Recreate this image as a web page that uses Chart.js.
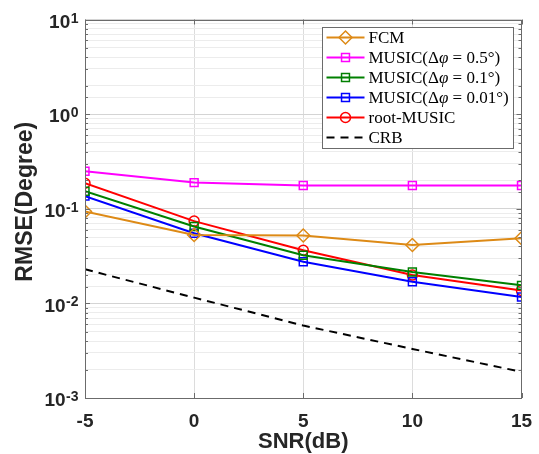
<!DOCTYPE html>
<html><head><meta charset="utf-8">
<script src="https://cdn.jsdelivr.net/npm/chart.js@4.4.1/dist/chart.umd.min.js"></script>
<style>html,body{margin:0;padding:0;background:#fff}#wrap{width:539px;height:454px}</style>
</head><body><div id="wrap"><canvas id="c" width="539" height="454"></canvas></div>
<script>
// ---- data ----
const snr = [-5, 0, 5, 10, 15];
const fcm = [0.0936, 0.0529, 0.0522, 0.0414, 0.0488];
const music05 = [0.249, 0.189, 0.176, 0.176, 0.176];
const music01 = [0.153, 0.0649, 0.0322, 0.0215, 0.0155];
const music001 = [0.136, 0.0551, 0.0275, 0.0169, 0.0117];
const rootMusic = [0.186, 0.074, 0.0364, 0.0199, 0.0137];
const crb = [0.0229, 0.0115, 0.00583, 0.0033, 0.00189];
const xTickValues = [-5, 0, 5, 10, 15];
const yTickExponents = [-3, -2, -1, 0, 1];
const seriesNames = ['FCM', 'MUSIC(Δφ = 0.5°)', 'MUSIC(Δφ = 0.1°)', 'MUSIC(Δφ = 0.01°)', 'root-MUSIC', 'CRB'];
const xTitle = 'SNR(dB)';
const yTitle = 'RMSE(Degree)';

const SANS = '"Liberation Sans", Arial, Helvetica, sans-serif';
const SERIF = '"Liberation Serif", "Times New Roman", serif';
const AXIS = '#6b6b6b';
const TXT = '#262626';

function isDecade(v){ const e = Math.log10(v); return Math.abs(e - Math.round(e)) < 1e-6; }
function pts(arr){ return snr.map((x, i) => ({x: x, y: arr[i]})); }

function mk(label, arr, color, style, radius, dash){
  return {
    label: label, data: pts(arr), borderColor: color, backgroundColor: 'rgba(0,0,0,0)',
    borderWidth: 2, borderDash: dash || [], pointStyle: style || false,
    pointRadius: style ? radius : 0, pointHoverRadius: style ? radius : 0,
    pointBorderWidth: 1.5, pointBorderColor: color, pointBackgroundColor: 'rgba(0,0,0,0)',
    tension: 0, fill: false
  };
}

const datasets = [
  mk(seriesNames[0], fcm, '#DD8A16', 'rectRot', 6.5),
  mk(seriesNames[1], music05, '#FF00FF', 'rect', 5.6),
  mk(seriesNames[2], music01, '#008000', 'rect', 5.6),
  mk(seriesNames[3], music001, '#0000FF', 'rect', 5.6),
  mk(seriesNames[4], rootMusic, '#FF0000', 'circle', 5),
  mk(seriesNames[5], crb, '#000000', false, 0, [8, 6])
];

function drawMarker(ctx, style, color, r, x, y){
  if (!style) return;
  ctx.save();
  ctx.strokeStyle = color; ctx.lineWidth = 1.5; ctx.setLineDash([]);
  ctx.beginPath();
  if (style === 'rect'){ const s = r * Math.SQRT1_2; ctx.rect(x - s, y - s, 2*s, 2*s); }
  else if (style === 'rectRot'){ ctx.moveTo(x, y - r); ctx.lineTo(x + r, y); ctx.lineTo(x, y + r); ctx.lineTo(x - r, y); ctx.closePath(); }
  else if (style === 'circle'){ ctx.arc(x, y, r, 0, Math.PI*2); }
  ctx.stroke();
  ctx.restore();
}

const framePlugin = {
  id: 'frame',
  afterDraw(chart){
    const {ctx, chartArea: a, scales} = chart;
    ctx.save();
    // y tick labels: 10 with raised exponent
    const mainFont = 'bold 19px ' + SANS, expFont = 'bold 14px ' + SANS;
    ctx.fillStyle = TXT; ctx.textAlign = 'left';
    yTickExponents.forEach(e => {
      const gy = scales.y.getPixelForValue(Math.pow(10, e));
      const y0 = gy + 3;
      const es = String(e);
      ctx.font = mainFont; const wm = ctx.measureText('10').width;
      ctx.font = expFont; const we = ctx.measureText(es).width;
      const xr = a.left - 7;
      const xs = xr - we - wm;
      ctx.font = mainFont; ctx.textBaseline = 'middle';
      ctx.fillText('10', xs, y0);
      ctx.font = expFont; ctx.textBaseline = 'alphabetic';
      ctx.fillText(es, xs + wm + 0.5, y0);
    });
    // y title
    ctx.save();
    ctx.translate(26, (a.top + a.bottom) / 2 - 7);
    ctx.rotate(-Math.PI / 2);
    ctx.font = 'bold 23px ' + SANS; ctx.textAlign = 'center'; ctx.textBaseline = 'middle';
    ctx.fillText(yTitle, 0, 0);
    ctx.restore();

    ctx.strokeStyle = AXIS; ctx.lineWidth = 1; ctx.setLineDash([]);
    ctx.beginPath();
    scales.y.ticks.forEach(t => {
      const y = Math.round(scales.y.getPixelForValue(t.value)) + 0.5;
      const len = isDecade(t.value) ? 5 : 3;
      ctx.moveTo(a.left, y); ctx.lineTo(a.left + len, y);
      ctx.moveTo(a.right, y); ctx.lineTo(a.right - len, y);
    });
    scales.x.ticks.forEach(t => {
      const x = Math.round(scales.x.getPixelForValue(t.value)) + 0.5;
      ctx.moveTo(x, a.bottom); ctx.lineTo(x, a.bottom - 5);
      ctx.moveTo(x, a.top); ctx.lineTo(x, a.top + 5);
    });
    ctx.stroke();
    ctx.strokeRect(Math.round(a.left) + 0.5, Math.round(a.top) + 0.5, Math.round(a.right - a.left) - 1, Math.round(a.bottom - a.top) - 1);

    // legend (inside, top-right)
    const font = '17px ' + SERIF, ifont = 'italic 17px ' + SERIF;
    const parts = s => s.split(/(φ)/).filter(p => p.length);
    const measure = s => parts(s).reduce((w, p) => { ctx.font = (p === 'φ') ? ifont : font; return w + ctx.measureText(p).width; }, 0);
    const ds = chart.data.datasets;
    const textW = Math.max(...ds.map(d => measure(d.label)));
    const rowH = 20, sampleW = 38;
    const boxW = Math.round(4 + sampleW + 4 + textW + 5);
    const boxH = 10 + (ds.length - 1) * rowH + 11;
    const right = Math.round(a.right) - 8.5;
    const left = right - boxW;
    const top = Math.round(a.top) + 7.5;
    ctx.fillStyle = '#ffffff';
    ctx.fillRect(left, top, boxW, boxH);
    ctx.strokeStyle = AXIS; ctx.lineWidth = 1;
    ctx.strokeRect(left, top, boxW, boxH);
    ds.forEach((d, i) => {
      const y = top + 10 + i * rowH;
      ctx.save();
      ctx.strokeStyle = d.borderColor; ctx.lineWidth = 2; ctx.setLineDash(d.borderDash || []);
      ctx.beginPath(); ctx.moveTo(left + 4, y); ctx.lineTo(left + 4 + sampleW, y); ctx.stroke();
      ctx.restore();
      drawMarker(ctx, d.pointStyle, d.borderColor, d.pointRadius, left + 4 + sampleW/2, y);
      let x = left + 4 + sampleW + 4;
      ctx.fillStyle = '#000'; ctx.textBaseline = 'middle'; ctx.textAlign = 'left';
      parts(d.label).forEach(p => {
        ctx.font = (p === 'φ') ? ifont : font;
        ctx.fillText(p, x, y + 1);
        x += ctx.measureText(p).width;
      });
    });
    ctx.restore();
  }
};

new Chart(document.getElementById('c'), {
  type: 'line',
  data: { datasets: datasets },
  plugins: [framePlugin],
  options: {
    responsive: false, animation: false, devicePixelRatio: 1,
    layout: { padding: { left: 0, right: 17.5, top: 19.5, bottom: 0 } },
    plugins: { legend: { display: false }, tooltip: { enabled: false } },
    scales: {
      x: {
        type: 'linear', min: -5, max: 15,
        afterBuildTicks: s => { s.ticks = xTickValues.map(v => ({value: v})); },
        afterFit: s => { s.height = 56; s.paddingLeft = 0; s.paddingRight = 0; },
        grid: { color: '#dcdcdc', drawTicks: false, lineWidth: 1 },
        border: { display: false },
        ticks: { padding: 12, color: TXT, maxRotation: 0, font: { family: SANS, size: 19, weight: 'bold' } },
        title: { display: true, text: xTitle, color: TXT, padding: { top: 0, bottom: 0 }, font: { family: SANS, size: 22, weight: 'bold', lineHeight: 1.1 } }
      },
      y: {
        type: 'logarithmic', min: 0.001, max: 10,
        afterFit: s => { s.width = 85; s.paddingTop = 0; s.paddingBottom = 0; },
        grid: { color: c => (c.tick && isDecade(c.tick.value)) ? '#d4d4d4' : '#ececec', drawTicks: false, lineWidth: 1 },
        border: { display: false },
        ticks: { autoSkip: false, display: false },
        title: { display: false }
      }
    }
  }
});
</script>
</body></html>
